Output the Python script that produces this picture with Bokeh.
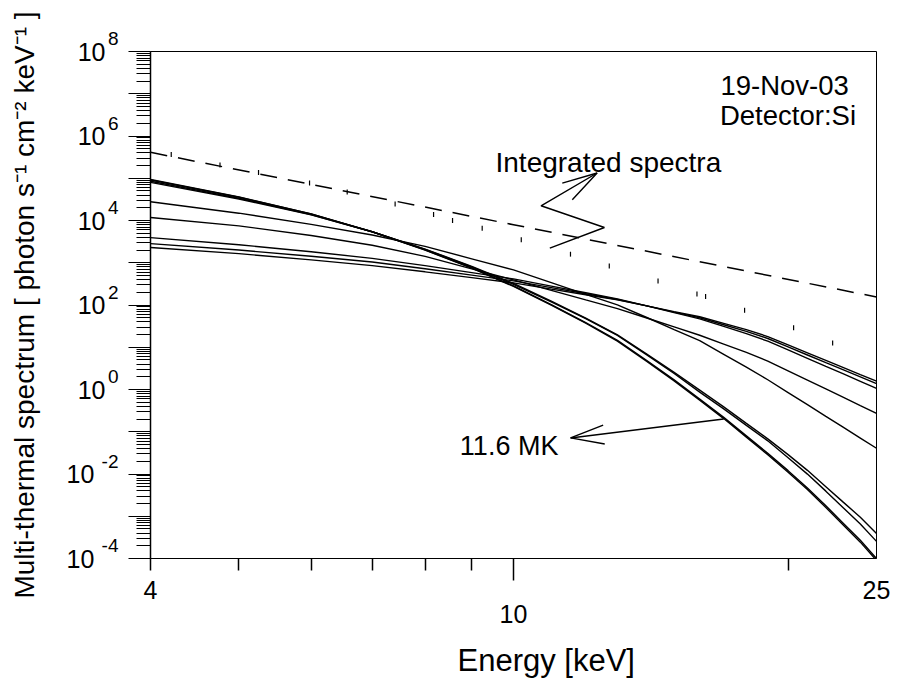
import math
from bokeh.plotting import figure
from bokeh.models import Range1d, FixedTicker, Label, CustomJSTickFormatter, LogAxis, Title
from bokeh.embed import file_html
from bokeh.resources import INLINE

FONT = "Liberation Sans"

# ---------------- data ----------------
energy_keV = [4, 5, 6, 7, 8, 9, 10, 11, 12, 13, 14, 15, 16, 17, 18, 19, 20, 21, 22, 23, 24, 25]

spec_11_6MK_a = [9.08e4, 3.56e4, 1.44e4, 5.42e3, 2.02e3, 759, 282, 102, 38.5, 14.6, 4.86, 1.69,
                 0.59, 0.219, 0.080, 0.0308, 0.0120, 4.68e-3, 1.77e-3, 6.78e-4, 2.70e-4, 1.0e-4]
spec_11_6MK_b = [9.33e4, 3.62e4, 1.44e4, 5.40e3, 1.99e3, 743, 275, 99.1, 37.0, 13.9, 4.63, 1.60,
                 0.556, 0.205, 0.0745, 0.0285, 0.0110, 4.29e-3, 1.61e-3, 6.14e-4, 2.44e-4, 9.0e-5]
spec_c = [8.49e4, 3.37e4, 1.39e4, 5.42e3, 2.07e3, 802, 307, 119, 47.4, 19.0, 6.59, 2.39,
          0.865, 0.348, 0.142, 0.0610, 0.0243, 9.95e-3, 3.93e-3, 1.57e-3, 6.56e-4, 2.54e-4]
spec_d = [7.96e4, 3.23e4, 1.36e4, 5.42e3, 2.11e3, 824, 324, 124, 49.2, 19.7, 6.93, 2.55,
          0.966, 0.388, 0.158, 0.0679, 0.0287, 0.0122, 5.0e-3, 2.13e-3, 9.5e-4, 3.93e-4]
spec_e = [2.77e4, 1.49e4, 8.11e3, 4.55e3, 2.44e3, 1.24e3, 676, 338, 179, 101, 50.6, 26.2,
          14.3, 6.82, 3.39, 1.70, 0.847, 0.438, 0.232, 0.127, 0.0710, 0.0407]
spec_f = [1.18e4, 7.48e3, 4.43e3, 2.59e3, 1.42e3, 718, 392, 222, 132, 82.2, 49.2, 30.3,
          19.2, 11.9, 7.57, 4.70, 2.77, 1.67, 1.03, 0.649, 0.416, 0.272]
spec_g = [3.94e3, 2.67e3, 1.82e3, 1.27e3, 855, 583, 414, 279, 195, 140, 95.3, 66.1,
          47.1, 31.3, 21.1, 13.9, 8.63, 5.46, 3.52, 2.33, 1.56, 1.06]
spec_h = [2.84e3, 2.0e3, 1.42e3, 1.04e3, 723, 509, 372, 258, 185, 135, 95.3, 67.9,
          49.8, 34.0, 23.7, 16.1, 10.2, 6.56, 4.31, 2.91, 1.99, 1.38]
spec_i = [2.29e3, 1.64e3, 1.17e3, 855, 610, 445, 333, 237, 175, 132, 95.3, 69.8,
          52.6, 36.6, 26.1, 17.9, 11.4, 7.40, 4.89, 3.30, 2.26, 1.58]

integrated_energy = [4, 10, 25]
integrated_flux = [4.1e5, 7.94e3, 1.55e2]

observed_energy = [4.215, 4.767, 5.254, 5.976, 6.572, 7.417, 8.173, 8.574, 9.240, 10.198,
                   11.547, 12.735, 14.403, 15.89, 16.24, 17.92, 20.28, 22.38]
observed_flux = [3.67e5, 2.06e5, 1.37e5, 7.74e4, 4.73e4, 2.46e4, 1.39e4, 1.0e4, 6.53e3, 3.52e3,
                 1.60e3, 843, 372, 183, 159, 75, 29, 12.6]

# annotation arrows (data units)
integ_arrow_E = [10.96, 12.58, 10.72, 12.35]
integ_arrow_F = [2.21e3, 6.82e3, 2.23e4, 1.33e5]
integ_head_E = [11.31, 12.35, 11.60]
integ_head_F = [7.69e4, 1.33e5, 3.09e4]
mk_arrow_E = [17.0, 11.55]
mk_arrow_F = [0.201, 0.0714]
mk_head_E = [12.54, 11.55, 12.59]
mk_head_F = [0.143, 0.0714, 0.0514]

# ticks and tick labels
x_edge_ticks = [4, 25]
x_edge_labels = ["4", "25"]
x_mid_ticks = [10]
x_mid_labels = ["10"]
x_minor_ticks = [4, 5, 6, 7, 8, 9, 20]
y_major_ticks = [1e-4, 1e-3, 1e-2, 1e-1, 1e0, 1e1, 1e2, 1e3, 1e4, 1e5, 1e6, 1e7, 1e8]
y_label_ticks = [1e8, 1e6, 1e4, 1e2, 1e0, 1e-2, 1e-4]
y_label_exponents = ["8", "6", "4", "2", "0", "-2", "-4"]
y_label_base = ["10", "10", "10", "10", "10", "10\u00a0\u2006", "10\u00a0\u2006"]

# ---------------- layout ----------------
W, H = 905, 693
BL, BR, BT, BB = 150, 29, 51, 135

p = figure(width=W, height=H, x_axis_type="log", y_axis_type="log",
           x_range=Range1d(4, 25), y_range=Range1d(1e-4, 1e8),
           output_backend="svg", toolbar_location=None, title=None,
           min_border_left=BL, min_border_right=BR, min_border_top=BT, min_border_bottom=BB)
p.grid.visible = False
p.outline_line_color = "black"
p.outline_line_width = 1
p.background_fill_color = "white"
p.border_fill_color = "white"

LOOKUP = """
const lt = Math.log10(tick);
for (let i = 0; i < tick_vals.length; i++) {
  if (Math.abs(Math.log10(tick_vals[i]) - lt) < 1e-6) return tick_texts[i];
}
return '';
"""


def fmt(tick_list, label_list):
    return CustomJSTickFormatter(args=dict(tick_vals=list(tick_list), tick_texts=list(label_list)),
                                 code=LOOKUP)


def label_axis(tick_list, label_list, size, standoff, line_height=1.2):
    return LogAxis(ticker=FixedTicker(ticks=list(tick_list)), formatter=fmt(tick_list, label_list),
                   axis_line_color=None, major_tick_line_color=None, minor_tick_line_color=None,
                   major_tick_out=0, major_tick_in=0, minor_tick_out=0, minor_tick_in=0,
                   major_label_standoff=standoff, major_label_text_font=FONT,
                   major_label_text_font_size=f"{size}px", major_label_text_color="black",
                   major_label_text_line_height=line_height)


# --- y axis: ticks only (innermost)
yA = p.yaxis[0]
yA.ticker = FixedTicker(ticks=y_major_ticks,
                        minor_ticks=[m * t for t in y_major_ticks[:-1] for m in range(2, 10)])
yA.major_label_text_color = None
yA.major_label_standoff = 0
yA.major_tick_out = 22
yA.major_tick_in = 0
yA.minor_tick_out = 14
yA.minor_tick_in = 0
yA.axis_line_width = 1.5
yA.major_tick_line_width = 1.2
yA.minor_tick_line_width = 1

# --- y exponents (raised by a second, empty text line)
yB = label_axis(y_label_ticks, [e + "\n\u00a0" for e in y_label_exponents], 19, 10, 1.2)
p.add_layout(yB, "left")

# --- y "10" bases plus the axis title
yC = label_axis(y_label_ticks, y_label_base, 25, -7)
yC.axis_label = "Multi-thermal spectrum [ photon s\u207b\u00b9 cm\u207b\u00b2 keV\u207b\u00b9 ]"
yC.axis_label_text_font = FONT
yC.axis_label_text_font_size = "28px"
yC.axis_label_text_font_style = "normal"
yC.axis_label_text_color = "black"
yC.axis_label_standoff = 24
p.add_layout(yC, "left")

# --- x axis: ticks only (innermost)
xA = p.xaxis[0]
xA.ticker = FixedTicker(ticks=x_mid_ticks, minor_ticks=x_minor_ticks)
xA.major_label_text_color = None
xA.major_label_standoff = 0
xA.major_tick_out = 22
xA.major_tick_in = 0
xA.minor_tick_out = 12
xA.minor_tick_in = 0
xA.axis_line_width = 1.2
xA.major_tick_line_width = 1.5
xA.minor_tick_line_width = 1.5

xB = label_axis(x_edge_ticks, x_edge_labels, 25, 0)
p.add_layout(xB, "below")
xC = label_axis(x_mid_ticks, x_mid_labels, 25, 3)
p.add_layout(xC, "below")

p.add_layout(Title(text="Energy [keV]", align="left", offset=307, standoff=30,
                   text_font=FONT, text_font_size="31px", text_font_style="normal",
                   text_color="black"), "below")

# ---------------- marks ----------------
for series in [spec_11_6MK_a, spec_11_6MK_b, spec_c, spec_d, spec_e, spec_f, spec_g, spec_h, spec_i]:
    p.line(energy_keV, series, line_color="black", line_width=1.4)

p.line(integrated_energy, integrated_flux, line_color="black", line_width=1.5, line_dash="17 11")

p.scatter(observed_energy, observed_flux, marker="dash", size=5, angle=math.pi / 2,
          line_color="black", line_width=1.2)

p.line(integ_arrow_E, integ_arrow_F, line_color="black", line_width=1.4)
p.line(integ_head_E, integ_head_F, line_color="black", line_width=1.4)
p.line(mk_arrow_E, mk_arrow_F, line_color="black", line_width=1.4)
p.line(mk_head_E, mk_head_F, line_color="black", line_width=1.4)


def lab(x, y, text, size, align="left", baseline="alphabetic"):
    p.add_layout(Label(x=x, y=y, text=text, text_font=FONT, text_font_size=f"{size}px",
                       text_color="black", text_align=align, text_baseline=baseline))


lab(9.556, 2.37e5, "Integrated spectra", 28)
lab(16.86, 1.56e7, "19-Nov-03", 27.5)
lab(16.84, 3.04e6, "Detector:Si", 27.5)
lab(11.20, 0.0448, "11.6 MK", 27, align="right")

open("out.html", "w").write(file_html(p, INLINE))
